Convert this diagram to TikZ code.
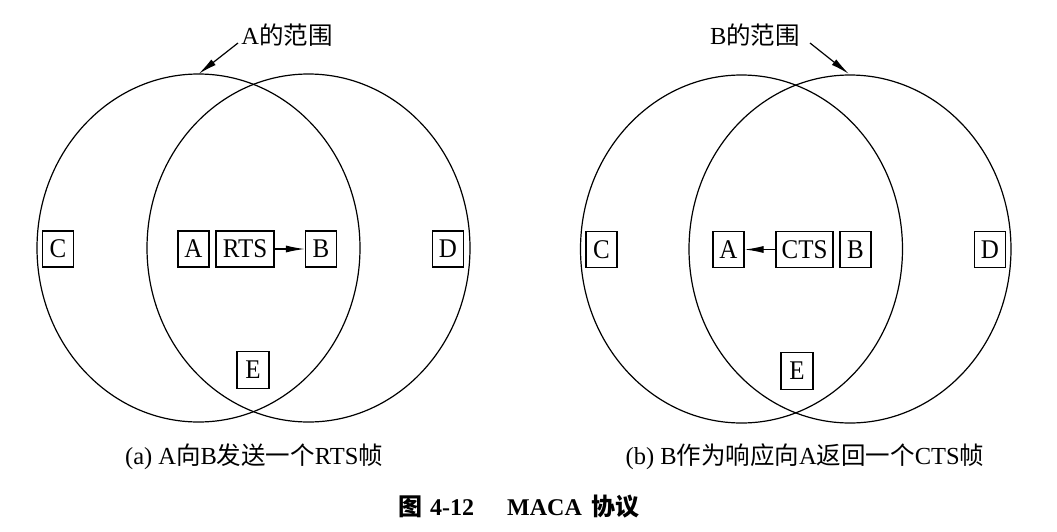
\documentclass[tikz,border=0pt]{standalone}
\usepackage{fontspec}
\setmainfont{Liberation Serif}
\newfontfamily\cjk{Noto Sans CJK SC}
\usetikzlibrary{arrows.meta}
\begin{document}
\begin{tikzpicture}[x=1pt,y=-1pt,
  nd/.style={draw,line width=1.2pt,minimum width=31pt,minimum height=36pt,inner sep=0pt,font=\fontsize{25}{25}\selectfont},
  rng/.style={line width=1.2pt},
  arr/.style={-{Latex[length=19pt,width=7pt]},line width=1.2pt},
  lbl/.style={font=\fontsize{24.5}{24.5}\selectfont,inner sep=0pt},
  ttl/.style={font=\fontsize{24}{24}\selectfont\bfseries,inner sep=0pt}]
\useasboundingbox (0,0) rectangle (1057,531);
% ---------- panel (a)
\draw[rng] (198.5,248) ellipse [x radius=161.5pt, y radius=174pt];
\draw[rng] (308.5,248) ellipse [x radius=161.5pt, y radius=174pt];
\node[lbl] (la) at (287,35) {A{\cjk 的范围}};
\coordinate (sa) at (238,43);
\coordinate (ta) at (198.5,74);
\draw[arr] (sa) -- (ta);
\node[nd] (aC) at (58,249) {\scalebox{1}[1.08]{C}};
\node[nd] (aA) at (193.5,249) {\scalebox{1}[1.08]{A}};
\node[nd,minimum width=58pt] (aR) at (245,249) {\scalebox{1}[1.08]{RTS}};
\node[nd] (aB) at (321,249) {\scalebox{1}[1.08]{B}};
\node[nd] (aD) at (448,249) {\scalebox{1}[1.08]{D}};
\node[nd,minimum width=32pt,minimum height=37pt] (aE) at (253,370) {\scalebox{1}[1.08]{E}};
\draw[arr] (aR) -- (aB);
\node[lbl] (ca) at (254,457) {(a) A{\cjk 向}B{\cjk 发送一个}RTS{\cjk 帧}};
% ---------- panel (b)
\draw[rng] (741.5,249) ellipse [x radius=161pt, y radius=174pt];
\draw[rng] (850,249) ellipse [x radius=161pt, y radius=174pt];
\node[lbl] (lb) at (755,35) {B{\cjk 的范围}};
\coordinate (sb) at (810,43);
\coordinate (tb) at (849,74);
\draw[arr] (sb) -- (tb);
\node[nd] (bC) at (601.5,249.5) {\scalebox{1}[1.08]{C}};
\node[nd] (bA) at (728.5,249.5) {\scalebox{1}[1.08]{A}};
\node[nd,minimum width=57pt] (bR) at (804.5,249.5) {\scalebox{1}[1.08]{CTS}};
\node[nd] (bB) at (855.5,249.5) {\scalebox{1}[1.08]{B}};
\node[nd] (bD) at (990,249.5) {\scalebox{1}[1.08]{D}};
\node[nd,minimum width=32pt,minimum height=37pt] (bE) at (797,371) {\scalebox{1}[1.08]{E}};
\draw[arr] (bR) -- (bA);
\node[lbl] (cb) at (805,457) {(b) B{\cjk 作为响应向}A{\cjk 返回一个}CTS{\cjk 帧}};
% ---------- title
\node[ttl,anchor=west] (tt) at (398,507) {{\cjk 图}\hspace{8pt}4-12\hspace{33pt}MACA\hspace{10pt}{\cjk 协议}};
\end{tikzpicture}
\end{document}
